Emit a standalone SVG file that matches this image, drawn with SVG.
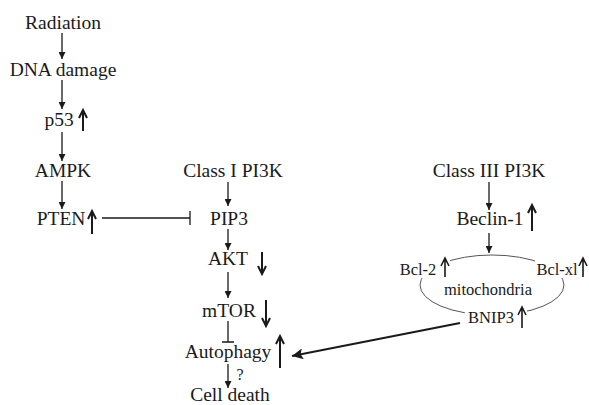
<svg xmlns="http://www.w3.org/2000/svg" width="589" height="405" viewBox="0 0 589 405">
<style>
text{font-family:"Liberation Serif","Times New Roman",serif;fill:#1a1a1a;text-anchor:middle}
.n{font-size:19.5px}
.s{font-size:16.5px}
.c{stroke:#1a1a1a;stroke-width:1.3;fill:none}
.ind{stroke:#1a1a1a;stroke-width:2;fill:none}
.ell{stroke:#555;stroke-width:1;fill:none}
</style>
<defs>
<marker id="ah" viewBox="0 0 8 8" refX="8" refY="4" markerWidth="7" markerHeight="7" markerUnits="userSpaceOnUse" orient="auto">
<path d="M0,0 L8,4 L0,8 Z" fill="#1a1a1a"/>
</marker>
<marker id="ahb" viewBox="0 0 10 10" refX="10" refY="5" markerWidth="11" markerHeight="11" markerUnits="userSpaceOnUse" orient="auto">
<path d="M0,0 L10,5 L0,10 L2,5 Z" fill="#1a1a1a"/>
</marker>
</defs>
<g id="connectors">
<path class="c" d="M62,33 V59" marker-end="url(#ah)"/>
<path class="c" d="M62,80 V109" marker-end="url(#ah)"/>
<path class="c" d="M62,132 V161" marker-end="url(#ah)"/>
<path class="c" d="M62,181 V209" marker-end="url(#ah)"/>
<path class="c" d="M102,218 H190 M190,211 V225"/>
<path class="c" d="M228,182 V206" marker-end="url(#ah)"/>
<path class="c" d="M228,229 V250" marker-end="url(#ah)"/>
<path class="c" d="M228,272 V298" marker-end="url(#ah)"/>
<path class="c" d="M228,321 V342 M222,342 H234"/>
<path class="c" d="M228,364 V388" marker-end="url(#ah)"/>
<path class="c" d="M489,182 V210" marker-end="url(#ah)"/>
<path class="c" d="M489,233 V253" marker-end="url(#ah)"/>
<path d="M460,323 L292,356" stroke="#1a1a1a" stroke-width="2" fill="none" marker-end="url(#ahb)"/>
</g>
<g id="radiation"><text class="n" x="63" y="29">Radiation</text></g>
<g id="dna-damage"><text class="n" x="63" y="76">DNA damage</text></g>
<g id="p53"><text class="n" x="59" y="126">p53</text><path class="ind" d="M83,131 V111 M79,118 L83,110 L87,118"/></g>
<g id="ampk"><text class="n" x="63" y="177">AMPK</text></g>
<g id="pten"><text class="n" x="61" y="225">PTEN</text><path class="ind" d="M92,234 V212 M88,219 L92,211 L96,219"/></g>
<g id="class1"><text class="n" x="233" y="177">Class I PI3K</text></g>
<g id="pip3"><text class="n" x="229" y="225">PIP3</text></g>
<g id="akt"><text class="n" x="228" y="265">AKT</text><path class="ind" d="M262,252 V273 M258,266 L262,274 L266,266"/></g>
<g id="mtor"><text class="n" x="229" y="317">mTOR</text><path class="ind" d="M266,300 V325 M262,318 L266,326 L270,318"/></g>
<g id="autophagy"><text class="n" x="228" y="358">Autophagy</text><path class="ind" d="M280,368 V337 M276,344 L280,336 L284,344"/></g>
<g id="q"><text x="240" y="380" style="font-size:16px">?</text></g>
<g id="cell-death"><text class="n" x="230" y="401">Cell death</text></g>
<g id="class3"><text class="n" x="489" y="177">Class III PI3K</text></g>
<g id="beclin"><text class="n" x="490" y="225">Beclin-1</text><path class="ind" d="M532,231 V206 M528,213 L532,205 L536,213"/></g>
<g id="mitochondria">
<ellipse class="ell" cx="492" cy="285" rx="72" ry="30"/>
<rect x="398" y="258" width="52" height="20" fill="#fff"/>
<rect x="535" y="258" width="54" height="20" fill="#fff"/>
<rect x="465" y="307" width="62" height="20" fill="#fff"/>
<text class="s" x="488" y="295">mitochondria</text>
</g>
<g id="bcl2"><text class="s" x="418" y="275">Bcl-2</text><path class="ind" d="M445,277 V259 M441,266 L445,258 L449,266" style="stroke-width:1.6"/></g>
<g id="bclxl"><text class="s" x="557" y="275">Bcl-xl</text><path class="ind" d="M583,277 V259 M579,266 L583,258 L587,266" style="stroke-width:1.6"/></g>
<g id="bnip3"><text class="s" x="491" y="323">BNIP3</text><path class="ind" d="M522,328 V308 M518,315 L522,307 L526,315" style="stroke-width:1.6"/></g>
</svg>
